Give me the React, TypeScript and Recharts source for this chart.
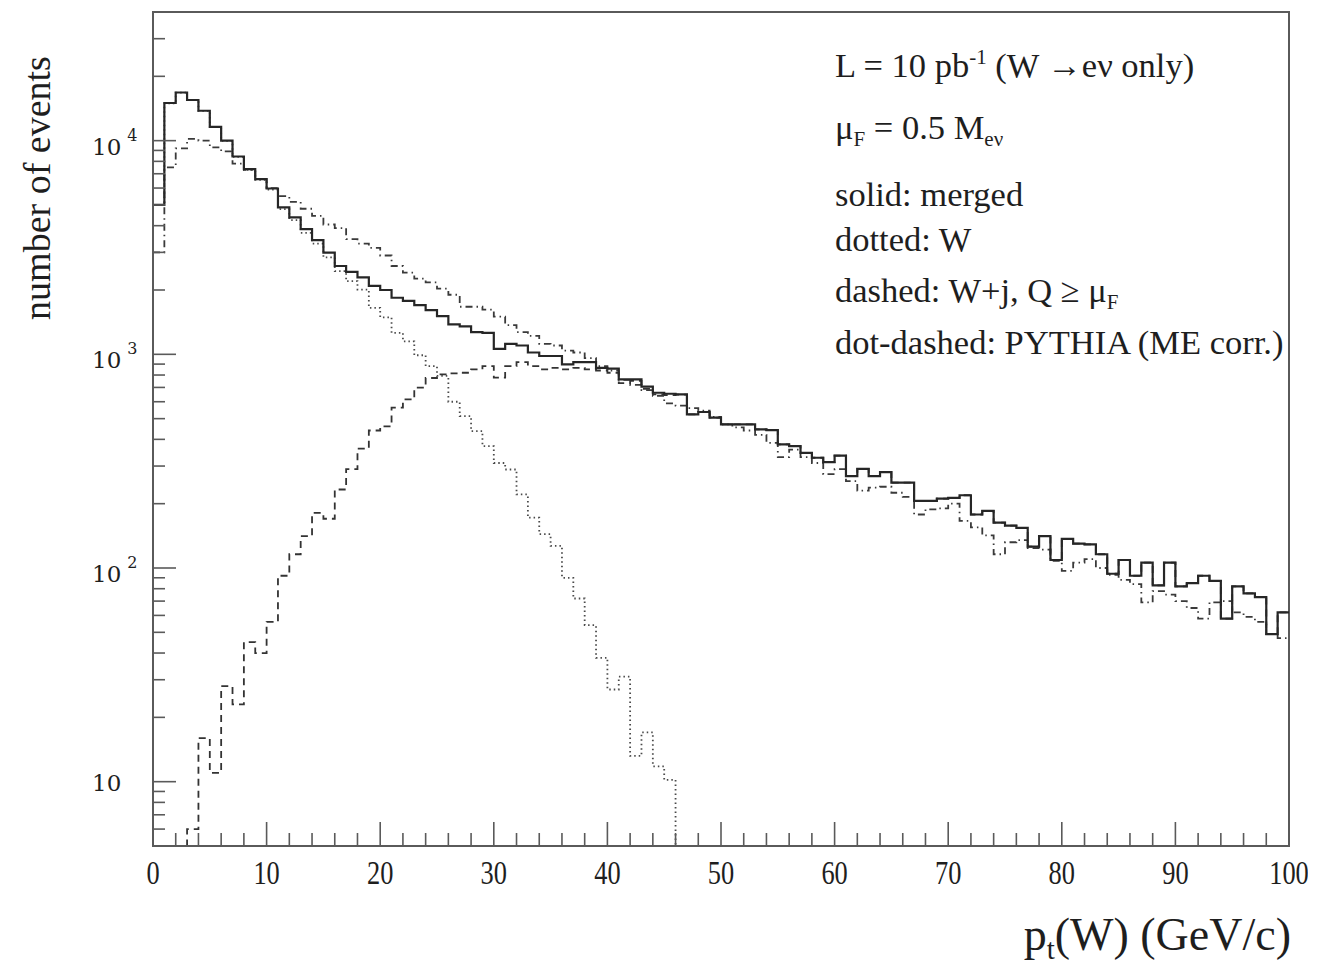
import { ComposedChart, Line, XAxis, YAxis, ReferenceArea } from "recharts";

// bin edges in GeV (1 GeV bins, 0..100)
const binEdges = [
  0, 1, 2, 3, 4, 5, 6, 7, 8, 9, 10, 11, 12, 13, 14, 15, 16, 17, 18, 19, 20,
  21, 22, 23, 24, 25, 26, 27, 28, 29, 30, 31, 32, 33, 34, 35, 36, 37, 38, 39, 40,
  41, 42, 43, 44, 45, 46, 47, 48, 49, 50, 51, 52, 53, 54, 55, 56, 57, 58, 59, 60,
  61, 62, 63, 64, 65, 66, 67, 68, 69, 70, 71, 72, 73, 74, 75, 76, 77, 78, 79, 80,
  81, 82, 83, 84, 85, 86, 87, 88, 89, 90, 91, 92, 93, 94, 95, 96, 97, 98, 99, 100,
];

// solid: merged
const mergedCounts = [
  5000, 15000, 16800, 15500, 13800, 11600, 10000, 8430, 7350, 6600,
  5970, 4870, 4370, 3850, 3420, 2990, 2590, 2430, 2290, 2090,
  2000, 1840, 1780, 1700, 1610, 1510, 1380, 1350, 1270, 1260,
  1060, 1120, 1100, 1020, 982, 982, 898, 920, 920, 865,
  857, 764, 764, 706, 661, 654, 650, 524, 537, 505,
  470, 470, 470, 445, 442, 379, 372, 346, 328, 313,
  336, 269, 291, 269, 281, 251, 251, 206, 206, 211,
  213, 219, 178, 185, 163, 158, 154, 126, 141, 109,
  137, 130, 129, 116, 94, 109, 92, 106, 83, 106,
  82, 85, 92, 87, 58, 82, 76, 73, 49, 62,
];

// dotted: W only (empty above 46 GeV)
const wOnlyCounts = [
  5000, 14950, 16780, 15480, 13780, 11590, 9970, 8400, 7300, 6550,
  5900, 4780, 4250, 3700, 3300, 2840, 2450, 2200, 2010, 1650,
  1490, 1260, 1150, 990, 880, 792, 600, 514, 437, 372,
  310, 289, 221, 172, 144, 127, 90, 72, 54, 38,
  27, 31, 13.2, 17, 11.8, 10.2, 2,
];

// dashed: W+j, Q >= muF
const wjCounts = [
  null, null, 2, 6, 16, 11, 28, 23, 45, 40,
  56, 92, 116, 141, 181, 170, 233, 290, 362, 440,
  460, 563, 615, 698, 775, 805, 814, 820, 850, 880,
  778, 880, 920, 880, 851, 865, 851, 865, 850, 840,
  820, 733, 751, 689, 649, 644, 648, 524, 537, 505,
  470, 470, 470, 445, 442, 379, 372, 346, 328, 313,
  336, 269, 291, 269, 281, 251, 251, 206, 206, 211,
  213, 219, 178, 185, 163, 158, 154, 126, 141, 109,
  137, 130, 129, 116, 94, 109, 92, 106, 83, 106,
  82, 85, 92, 87, 58, 82, 76, 73, 49, 62,
];

// dot-dashed: PYTHIA (ME corr.)
const pythiaCounts = [
  3000, 7500, 9200, 10200, 10000, 9300, 8900, 7800, 7300, 6600,
  6000, 5500, 5170, 4800, 4450, 4050, 3900, 3460, 3300, 3150,
  2900, 2590, 2410, 2260, 2170, 2030, 1900, 1670, 1670, 1620,
  1500, 1370, 1270, 1220, 1120, 1100, 1040, 1020, 960, 880,
  840, 760, 720, 680, 640, 590, 575, 560, 545, 510,
  470, 455, 440, 420, 385, 330, 358, 330, 310, 275,
  290, 255, 230, 238, 240, 225, 215, 178, 188, 190,
  200, 166, 155, 142, 116, 132, 135, 124, 122, 108,
  97, 106, 110, 100, 93, 88, 84, 69, 78, 75,
  70, 65, 58, 69, 70, 62, 59, 56, 49, 47,
];

const xTicks = [
  0, 2, 4, 6, 8, 10, 12, 14, 16, 18, 20, 22, 24, 26, 28, 30, 32, 34, 36, 38, 40,
  42, 44, 46, 48, 50, 52, 54, 56, 58, 60, 62, 64, 66, 68, 70, 72, 74, 76, 78, 80,
  82, 84, 86, 88, 90, 92, 94, 96, 98, 100,
];

const yTicks = [
  6, 7, 8, 9, 10, 20, 30, 40, 50, 60, 70, 80, 90, 100,
  200, 300, 400, 500, 600, 700, 800, 900, 1000,
  2000, 3000, 4000, 5000, 6000, 7000, 8000, 9000, 10000, 20000, 30000,
];

const yMajorExp: Record<number, string> = {
  10: "",
  100: "2",
  1000: "3",
  10000: "4",
};

const rows = binEdges.map((x, i) => {
  const k = Math.min(i, 99);
  return {
    x,
    merged: mergedCounts[k] ?? null,
    w: wOnlyCounts[k] ?? null,
    wj: wjCounts[k] ?? null,
    pythia: pythiaCounts[k] ?? null,
  };
});

const AXIS = "#5a5a5a";
const INK = "#1e1e1e";

function XTick(props: any) {
  const { x, y, payload } = props;
  const v = payload.value;
  const major = v % 10 === 0;
  return (
    <g>
      <line
        x1={x}
        y1={y}
        x2={x}
        y2={y - (major ? 24 : 13)}
        stroke={AXIS}
        strokeWidth={1.6}
      />
      {major && (
        <text
          transform={`translate(${x},${y + 38}) scale(0.8,1)`}
          textAnchor="middle"
          fontFamily="Liberation Serif"
          fontSize={33}
          fill={INK}
        >
          {v}
        </text>
      )}
    </g>
  );
}

function YTick(props: any) {
  const { x, y, payload } = props;
  const v = payload.value;
  const exp = yMajorExp[v];
  const major = exp !== undefined;
  return (
    <g>
      <line
        x1={x}
        y1={y}
        x2={x + (major ? 23 : 12)}
        y2={y}
        stroke={AXIS}
        strokeWidth={1.6}
      />
      {major && (
        <text
          x={x - 61}
          y={exp ? y + 14 : y + 9}
          fontFamily="DejaVu Serif"
          fontSize={23}
          fill={INK}
        >
          10
          {exp && (
            <tspan dx={6} dy={-14} fontSize={16}>
              {exp}
            </tspan>
          )}
        </text>
      )}
    </g>
  );
}

const legendLine = {
  position: "absolute" as const,
  left: 827,
  fontFamily: "Liberation Serif",
  fontSize: 34.5,
  lineHeight: "34px",
  color: INK,
  whiteSpace: "nowrap" as const,
};

const sub = { fontSize: 21, verticalAlign: "-0.35em" };
const sup = { fontSize: 21, verticalAlign: "0.6em" };

export default function App() {
  return (
    <div style={{ position: "relative", width: 1300, height: 955 }}>
      <ComposedChart
        width={1300}
        height={955}
        data={rows}
        margin={{ top: 4, right: 19, bottom: 0, left: 0 }}
      >
        <XAxis
          type="number"
          dataKey="x"
          domain={[0, 100]}
          ticks={xTicks}
          interval={0}
          allowDataOverflow
          height={117}
          tickSize={0}
          tickMargin={0}
          tickLine={false}
          tick={<XTick />}
          axisLine={{ stroke: AXIS, strokeWidth: 2 }}
        />
        <YAxis
          type="number"
          scale="log"
          domain={[5, 40000]}
          ticks={yTicks}
          interval={0}
          allowDataOverflow
          width={145}
          tickSize={0}
          tickMargin={0}
          tickLine={false}
          tick={<YTick />}
          axisLine={{ stroke: AXIS, strokeWidth: 2 }}
        />
        <ReferenceArea
          x1={0}
          x2={100}
          y1={5}
          y2={40000}
          fill="none"
          stroke={AXIS}
          strokeWidth={2}
          ifOverflow="visible"
        />
        <Line
          type="stepAfter"
          dataKey="w"
          stroke="#4a4a4a"
          strokeWidth={1.8}
          strokeDasharray="1.5 3"
          dot={false}
          isAnimationActive={false}
        />
        <Line
          type="stepAfter"
          dataKey="wj"
          stroke="#333"
          strokeWidth={1.8}
          strokeDasharray="7 5"
          dot={false}
          isAnimationActive={false}
        />
        <Line
          type="stepAfter"
          dataKey="pythia"
          stroke="#3a3a3a"
          strokeWidth={1.8}
          strokeDasharray="7 4 1.5 4"
          dot={false}
          isAnimationActive={false}
        />
        <Line
          type="stepAfter"
          dataKey="merged"
          stroke="#262626"
          strokeWidth={2.2}
          dot={false}
          isAnimationActive={false}
        />
      </ComposedChart>

      <div style={{ ...legendLine, top: 32 }}>
        L = 10 pb<span style={sup}>-1</span> (W →eν only)
      </div>
      <div style={{ ...legendLine, top: 102 }}>
        μ<span style={sub}>F</span> = 0.5 M<span style={sub}>eν</span>
      </div>
      <div style={{ ...legendLine, top: 169 }}>solid: merged</div>
      <div style={{ ...legendLine, top: 214 }}>dotted: W</div>
      <div style={{ ...legendLine, top: 265 }}>
        dashed: W+j, Q ≥ μ<span style={sub}>F</span>
      </div>
      <div style={{ ...legendLine, top: 317 }}>
        dot-dashed: PYTHIA (ME corr.)
      </div>

      <div
        style={{
          position: "absolute",
          left: 29,
          top: 180,
          transform: "translate(-50%, -50%) rotate(-90deg)",
          fontFamily: "Liberation Serif",
          fontSize: 38,
          color: INK,
          whiteSpace: "nowrap",
        }}
      >
        number of events
      </div>

      <div
        style={{
          position: "absolute",
          right: 17,
          top: 904,
          fontFamily: "Liberation Serif",
          fontSize: 46,
          lineHeight: "46px",
          color: INK,
          whiteSpace: "nowrap",
        }}
      >
        p<span style={{ fontSize: 29, verticalAlign: "-0.3em" }}>t</span>(W) (GeV/c)
      </div>
    </div>
  );
}
